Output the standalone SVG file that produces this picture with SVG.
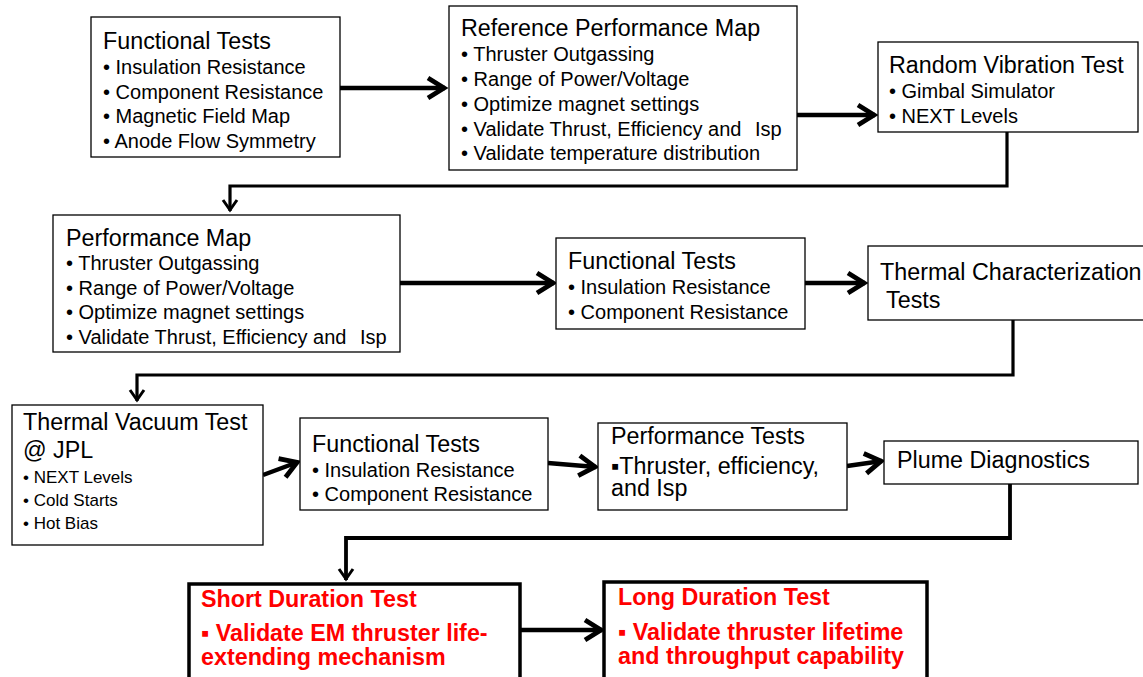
<svg xmlns="http://www.w3.org/2000/svg" width="1143" height="677" viewBox="0 0 1143 677">
<style>
.box{fill:#fff;stroke:#000;stroke-width:1.3}
.rbox{fill:#fff;stroke:#000;stroke-width:3.5}
text{font-family:"Liberation Sans",Arial,sans-serif;fill:#000;white-space:pre}
.t{font-size:23.3px}
.b{font-size:20px}
.s{font-size:20px}
.m{font-size:17px}
.r{font-size:23.3px;font-weight:bold;fill:#f00}
.big{fill:none;stroke:#000;stroke-width:4.5}
.thin{fill:none;stroke:#000;stroke-width:3.2}
</style>
<defs>
<marker id="ah" markerUnits="userSpaceOnUse" markerWidth="30" markerHeight="30" viewBox="-25 -15 30 30" refX="0" refY="0" orient="auto" overflow="visible">
<path d="M-17,-10 L-1,0 L-17,10" fill="none" stroke="#000" stroke-width="4.8" stroke-linejoin="miter"/>
</marker>
<marker id="as" markerUnits="userSpaceOnUse" markerWidth="20" markerHeight="20" viewBox="-15 -10 20 20" refX="0" refY="0" orient="auto" overflow="visible">
<path d="M-11,-7 L-1,0 L-11,7" fill="none" stroke="#000" stroke-width="3" stroke-linejoin="miter"/>
</marker>
</defs>

<g id="connectors">
<line class="big" x1="340" y1="88" x2="445" y2="88" marker-end="url(#ah)"/>
<line class="big" x1="797" y1="115" x2="875" y2="115" marker-end="url(#ah)"/>
<polyline class="thin" points="1007,132 1007,186 230,186 230,211" marker-end="url(#as)"/>
<line class="big" x1="400" y1="283" x2="554" y2="283" marker-end="url(#ah)"/>
<line class="big" x1="805" y1="283" x2="865" y2="283" marker-end="url(#ah)"/>
<polyline class="thin" points="1013,320 1013,375 137,375 137,401" marker-end="url(#as)"/>
<line class="big" x1="263" y1="475" x2="298" y2="462" marker-end="url(#ah)"/>
<line class="big" x1="548" y1="463" x2="596" y2="467" marker-end="url(#ah)"/>
<line class="big" x1="847" y1="466" x2="882" y2="461" marker-end="url(#ah)"/>
<polyline class="big" style="stroke-width:3.8" points="1010,484 1010,538 346,538 346,580" marker-end="url(#as)"/>
<line class="big" x1="520" y1="630" x2="602" y2="630" marker-end="url(#ah)"/>
</g>

<g id="n1">
<rect class="box" x="91" y="17" width="249" height="140"/>
<text class="t" x="103" y="49">Functional Tests</text>
<text class="b" x="103" y="74">• Insulation Resistance</text>
<text class="b" x="103" y="98.5">• Component Resistance</text>
<text class="b" x="103" y="123">• Magnetic Field Map</text>
<text class="b" x="103" y="147.5">• Anode Flow Symmetry</text>
</g>

<g id="n2">
<rect class="box" x="449" y="6" width="348" height="164"/>
<text class="t" x="461" y="36">Reference Performance Map</text>
<text class="s" x="461" y="61">• Thruster Outgassing</text>
<text class="s" x="461" y="86">• Range of Power/Voltage</text>
<text class="s" x="461" y="111">• Optimize magnet settings</text>
<text class="s" x="461" y="136">• Validate Thrust, Efficiency and <tspan x="755">Isp</tspan></text>
<text class="s" x="461" y="160">• Validate temperature distribution</text>
</g>

<g id="n3">
<rect class="box" x="878" y="42" width="260" height="90"/>
<text class="t" x="889" y="73">Random Vibration Test</text>
<text class="s" x="889" y="98">• Gimbal Simulator</text>
<text class="s" x="889" y="123">• NEXT Levels</text>
</g>

<g id="n4">
<rect class="box" x="53" y="215" width="347" height="137"/>
<text class="t" x="66" y="246">Performance Map</text>
<text class="s" x="66" y="270">• Thruster Outgassing</text>
<text class="s" x="66" y="295">• Range of Power/Voltage</text>
<text class="s" x="66" y="319">• Optimize magnet settings</text>
<text class="s" x="66" y="344">• Validate Thrust, Efficiency and <tspan x="360">Isp</tspan></text>
</g>

<g id="n5">
<rect class="box" x="556" y="238" width="249" height="91"/>
<text class="t" x="568" y="269">Functional Tests</text>
<text class="s" x="568" y="294">• Insulation Resistance</text>
<text class="s" x="568" y="319">• Component Resistance</text>
</g>

<g id="n6">
<rect class="box" x="868" y="246" width="290" height="74"/>
<text class="t" x="880" y="280">Thermal Characterization</text>
<text class="t" x="880" y="308"> Tests</text>
</g>

<g id="n7">
<rect class="box" x="12" y="405" width="251" height="140"/>
<text class="t" x="23" y="430">Thermal Vacuum Test</text>
<text class="t" x="23" y="458">@ JPL</text>
<text class="m" x="23" y="483">• NEXT Levels</text>
<text class="m" x="23" y="506">• Cold Starts</text>
<text class="m" x="23" y="529">• Hot Bias</text>
</g>

<g id="n8">
<rect class="box" x="300" y="418" width="248" height="92"/>
<text class="t" x="312" y="452">Functional Tests</text>
<text class="s" x="312" y="477">• Insulation Resistance</text>
<text class="s" x="312" y="501">• Component Resistance</text>
</g>

<g id="n9">
<rect class="box" x="598" y="423" width="249" height="87"/>
<text class="t" x="611" y="444">Performance Tests</text>
<text class="t" x="611" y="474">▪Thruster, efficiency,</text>
<text class="t" x="611" y="496">and Isp</text>
</g>

<g id="n10">
<rect class="box" x="884" y="441" width="254" height="43"/>
<text class="t" x="897" y="468">Plume Diagnostics</text>
</g>

<g id="n11">
<rect class="rbox" x="189" y="584" width="331" height="110"/>
<text class="r" x="201" y="607">Short Duration Test</text>
<text class="r" x="201" y="641">▪ Validate EM thruster life-</text>
<text class="r" x="201" y="665">extending mechanism</text>
</g>

<g id="n12">
<rect class="rbox" x="604" y="582" width="323" height="112"/>
<text class="r" x="618" y="605">Long Duration Test</text>
<text class="r" x="618" y="640">▪ Validate thruster lifetime</text>
<text class="r" x="618" y="664">and throughput capability</text>
</g>
</svg>
